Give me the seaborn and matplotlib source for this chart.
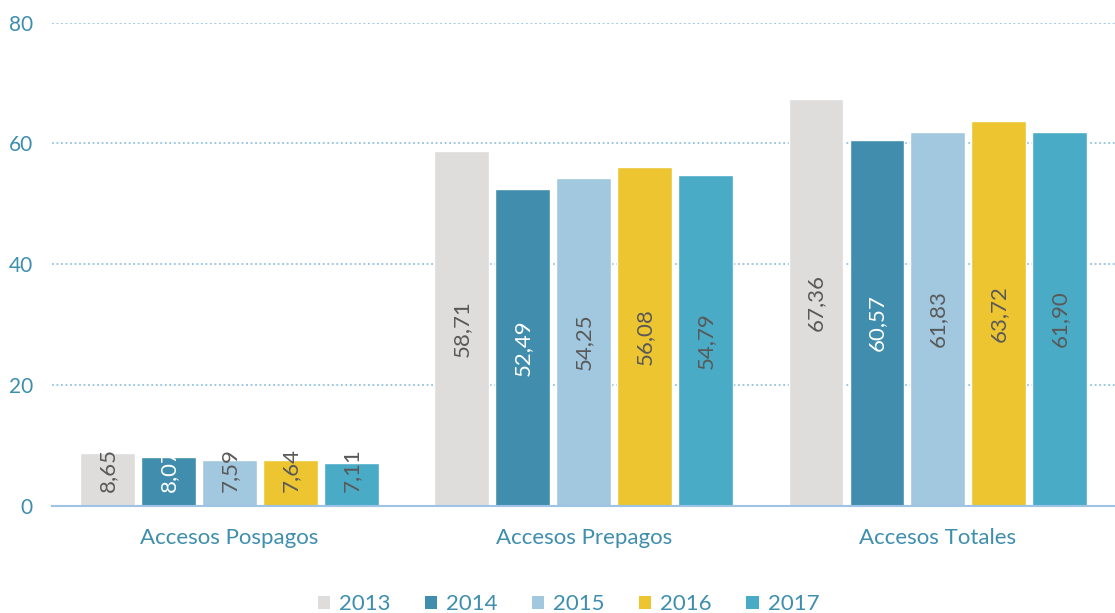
import numpy as np
import pandas as pd
import matplotlib.pyplot as plt
import seaborn as sns
from matplotlib.patches import Patch

# datos
categorias = ['Accesos Pospagos', 'Accesos Prepagos', 'Accesos Totales']
anios = ['2013', '2014', '2015', '2016', '2017']
v2013 = [8.65, 58.71, 67.36]
v2014 = [8.07, 52.49, 60.57]
v2015 = [7.59, 54.25, 61.83]
v2016 = [7.64, 56.08, 63.72]
v2017 = [7.11, 54.79, 61.90]
colores = ['#DEDDDC', '#418DAD', '#A1C8DE', '#ECC531', '#4AABC6']

valores = [v2013, v2014, v2015, v2016, v2017]
df = pd.DataFrame({
    'categoria': np.tile(categorias, len(anios)),
    'anio': np.repeat(anios, len(categorias)),
    'valor': np.concatenate(valores),
})

sns.set_style('white')
plt.rcParams['font.family'] = ['Lato', 'DejaVu Sans']

azul = '#3E8EAE'
fig = plt.figure(figsize=(11.15, 6.13), dpi=100)
ax = fig.add_axes([0.047, 0.175, 0.953, 0.788])

sns.barplot(data=df, x='categoria', y='valor', hue='anio', order=categorias,
            hue_order=anios, palette=colores, width=0.86, gap=0.1,
            saturation=1, ax=ax, legend=False)

# etiquetas de valor dentro de las barras (centradas; en barras cortas el
# texto sobresale hacia arriba como en Excel)
for cont, anio in zip(ax.containers, anios):
    col = 'white' if anio == '2014' else '#595959'
    for rect in cont:
        h = rect.get_height()
        ax.text(rect.get_x() + rect.get_width() / 2, max(h / 2, 5.9),
                f'{h:.2f}'.replace('.', ','), rotation=90, ha='center',
                va='center', fontsize=16, color=col)

ax.set_ylim(0, 80)
ax.set_xlim(-0.5, 2.5)
ax.set_yticks([0, 20, 40, 60, 80])
ax.yaxis.grid(True, linestyle=(0, (1, 1.5)), color='#93C3E0', linewidth=1.3)
ax.set_axisbelow(True)
ax.set_xlabel('')
ax.set_ylabel('')

for s in ['top', 'right', 'left']:
    ax.spines[s].set_visible(False)
ax.spines['bottom'].set_color('#9DC3E6')
ax.spines['bottom'].set_linewidth(1.5)

ax.tick_params(axis='y', length=0, labelsize=15, labelcolor=azul, pad=14)
ax.tick_params(axis='x', which='major', length=0, labelsize=16,
               labelcolor=azul, pad=16)
ax.set_xticks([-0.5, 0.5, 1.5, 2.5], minor=True)
ax.tick_params(axis='x', which='minor', length=7, color='#9DC3E6', width=1.2,
               direction='out')

handles = [Patch(facecolor=c, edgecolor='none') for c in colores]
fig.legend(handles, anios, loc='lower center', ncol=5, frameon=False,
           bbox_to_anchor=(0.51, -0.035), fontsize=16, labelcolor=azul,
           handlelength=0.55, handleheight=0.55, handletextpad=0.4,
           columnspacing=1.55)

fig.savefig('out.png', dpi=100)
